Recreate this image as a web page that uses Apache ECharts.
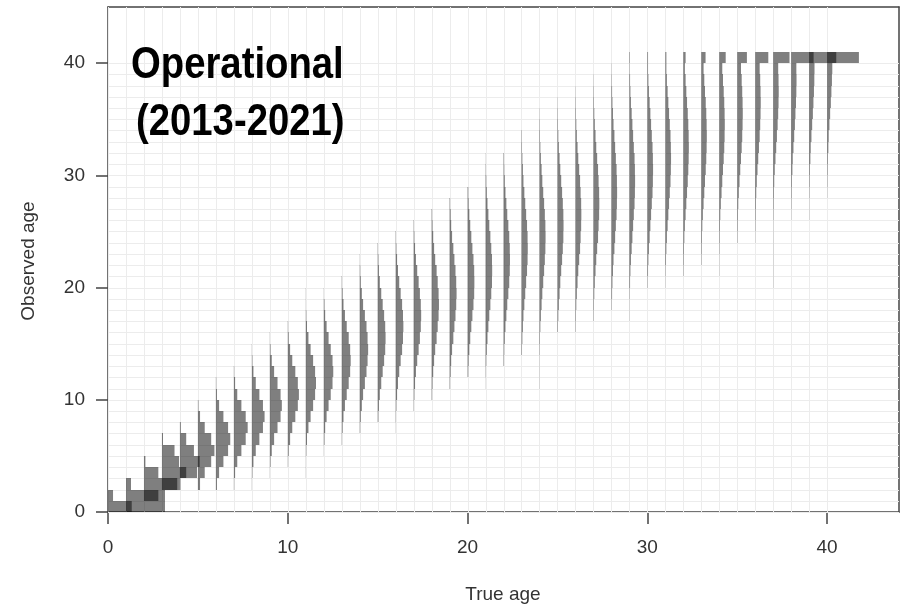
<!DOCTYPE html>
<html>
<head>
<meta charset="utf-8">
<script src="https://cdn.jsdelivr.net/npm/echarts@6/dist/echarts.min.js"></script>
<style>
  html, body { margin: 0; padding: 0; background: #ffffff; }
  #chart { width: 903px; height: 606px; }
</style>
</head>
<body>
<div id="chart"></div>
<script>
// ---- data: for each true age, the first observed age drawn and the bar widths
// (in hundredths of one x unit) for successive observed ages ----
const trueAges = [0,1,2,3,4,5,6,7,8,9,10,11,12,13,14,15,16,17,18,19,20,
                  21,22,23,24,25,26,27,28,29,30,31,32,33,34,35,36,37,38,39,40];
const firstObserved = [0,0,1,2,2,2,2,2,2,3,4,3,5,6,7,8,7,9,10,11,12,
                       11,13,14,11,16,16,17,18,17,20,20,21,22,21,24,24,20,26,26,28];

const w00 = [317, 28];
const w01 = [32, 217, 28];
const w02 = [80, 200, 80, 8];
const w03 = [85, 135, 95, 70, 6];
const w04 = [3, 95, 110, 78, 35, 5];
const w05 = [12, 38, 74, 92, 74, 38, 12, 3];
const w06 = [6, 18, 42, 68, 80, 68, 42, 18, 6, 2];
const w07 = [2, 7, 19, 42, 66, 77, 66, 42, 19, 7, 2];
const w08 = [1, 3, 9, 22, 42, 62, 71, 62, 42, 22, 9, 3, 1];
const w09 = [1, 4, 11, 24, 43, 60, 67, 60, 43, 24, 11, 4, 1];
const w10 = [2, 5, 13, 25, 42, 56, 62, 56, 42, 25, 13, 5, 2];
const w11 = [1, 1, 3, 7, 15, 27, 41, 52, 57, 52, 41, 27, 15, 7, 3, 1, 1];
const w12 = [1, 4, 8, 16, 27, 39, 49, 53, 49, 39, 27, 16, 8, 4, 1];
const w13 = [2, 5, 10, 18, 28, 39, 47, 50, 47, 39, 28, 18, 10, 5, 2];
const w14 = [3, 6, 12, 19, 29, 38, 44, 47, 44, 38, 29, 19, 12, 6, 3, 1];
const w15 = [4, 7, 12, 20, 28, 36, 42, 44, 42, 36, 28, 20, 12, 7, 4, 2];
const w16 = [1, 2, 4, 8, 13, 20, 28, 36, 41, 43, 41, 36, 28, 20, 13, 8, 4, 2];
const w17 = [2, 4, 8, 13, 20, 28, 35, 40, 42, 40, 35, 28, 20, 13, 8, 4, 2];
const w18 = [3, 5, 9, 14, 20, 28, 34, 39, 41, 39, 34, 28, 20, 14, 9, 5, 3];
const w19 = [3, 6, 9, 14, 21, 27, 33, 37, 39, 37, 33, 27, 21, 14, 9, 6, 3];
const w20 = [4, 6, 10, 15, 21, 27, 33, 37, 38, 37, 33, 27, 21, 15, 10, 6, 4];
const w21 = [1, 2, 4, 7, 11, 16, 21, 27, 32, 36, 37, 36, 32, 27, 21, 16, 11, 7, 4, 2, 1];
const w22 = [3, 4, 7, 11, 16, 21, 27, 32, 35, 36, 35, 32, 27, 21, 16, 11, 7, 4, 3];
const w23 = [3, 5, 8, 11, 16, 21, 26, 31, 34, 35, 34, 31, 26, 21, 16, 11, 8, 5, 3, 2];
const w24 = [1, 1, 1, 2, 3, 5, 8, 12, 16, 21, 26, 30, 33, 34, 33, 30, 26, 21, 16, 12, 8, 5, 3, 2, 1];
const w25 = [3, 5, 8, 12, 16, 21, 26, 30, 33, 34, 33, 30, 26, 21, 16, 12, 8, 5, 3, 2, 1];
const w26 = [2, 3, 5, 8, 12, 16, 21, 26, 29, 32, 33, 32, 29, 26, 21, 16, 12, 8, 5, 3, 2, 1];
const w27 = [2, 3, 5, 8, 12, 16, 21, 26, 29, 32, 33, 32, 29, 26, 21, 16, 12, 8, 5, 3, 2, 1];
const w28 = [2, 4, 6, 9, 12, 17, 21, 25, 29, 31, 32, 31, 29, 25, 21, 17, 12, 9, 6, 4, 2, 1];
const w29 = [1, 1, 2, 4, 6, 9, 13, 17, 21, 25, 29, 31, 32, 31, 29, 25, 21, 17, 13, 9, 6, 4, 2, 3];
const w30 = [2, 4, 6, 9, 13, 17, 21, 25, 29, 31, 32, 31, 29, 25, 21, 17, 13, 9, 6, 4, 4];
const w31 = [1, 2, 4, 6, 9, 13, 17, 21, 25, 29, 31, 32, 31, 29, 25, 21, 17, 13, 9, 6, 6];
const w32 = [2, 3, 4, 6, 9, 13, 17, 21, 25, 28, 30, 31, 30, 28, 25, 21, 17, 13, 9, 13];
const w33 = [2, 3, 4, 6, 9, 13, 17, 21, 25, 28, 30, 31, 30, 28, 25, 21, 17, 13, 24];
const w34 = [1, 1, 2, 3, 4, 6, 9, 13, 17, 21, 25, 28, 30, 31, 30, 28, 25, 21, 17, 36];
const w35 = [2, 3, 4, 6, 9, 13, 17, 21, 25, 28, 30, 31, 30, 28, 25, 21, 54];
const w36 = [1, 2, 3, 4, 6, 9, 13, 17, 21, 25, 28, 30, 31, 30, 28, 25, 73];
const w37 = [1, 1, 1, 1, 1, 1, 2, 3, 4, 6, 9, 13, 17, 21, 25, 28, 30, 31, 30, 28, 91];
const w38 = [1, 2, 3, 4, 7, 9, 13, 17, 21, 24, 27, 29, 30, 29, 125];
const w39 = [1, 1, 2, 3, 4, 7, 9, 13, 17, 21, 24, 27, 29, 30, 151];
const w40 = [1, 2, 3, 4, 7, 9, 13, 17, 21, 24, 27, 29, 177];

const widthLists = [w00,w01,w02,w03,w04,w05,w06,w07,w08,w09,w10,w11,w12,w13,w14,w15,w16,w17,w18,w19,w20,
                    w21,w22,w23,w24,w25,w26,w27,w28,w29,w30,w31,w32,w33,w34,w35,w36,w37,w38,w39,w40];

const xTicks = [0, 10, 20, 30, 40];
const yTicks = [0, 10, 20, 30, 40];
const gridAges = [0,1,2,3,4,5,6,7,8,9,10,11,12,13,14,15,16,17,18,19,20,
                  21,22,23,24,25,26,27,28,29,30,31,32,33,34,35,36,37,38,39,40];
const xLabel = 'True age';
const yLabel = 'Observed age';
const titleLine1 = 'Operational';
const titleLine2 = '(2013-2021)';

// ---- build the [trueAge, observedAge, width] table ----
const cells = [];
trueAges.forEach(function (a, i) {
  widthLists[i].forEach(function (w, j) {
    cells.push([a, firstObserved[i] + j, w / 100]);
  });
});

const chart = echarts.init(document.getElementById('chart'), null, { renderer: 'canvas' });

const labelFont = { fontSize: 19, color: '#333', fontFamily: 'Liberation Sans, Arial, sans-serif' };
const frameLine = { show: true, onZero: false, lineStyle: { color: '#444', width: 1.5 } };

chart.setOption({
  animation: false,
  backgroundColor: '#ffffff',
  grid: { left: 108, top: 7, right: 4, bottom: 94 },
  xAxis: [
    {
      type: 'value', min: 0, max: 44, interval: 10, position: 'bottom',
      axisLine: frameLine,
      splitLine: { show: false },
      axisTick: { show: true, length: 12, customValues: xTicks, lineStyle: { color: '#444', width: 1.5 } },
      axisLabel: Object.assign({ margin: 26, customValues: xTicks }, labelFont)
    },
    {
      type: 'value', min: 0, max: 44, position: 'top',
      axisLine: frameLine, axisTick: { show: false }, axisLabel: { show: false },
      splitLine: { show: false }
    }
  ],
  yAxis: [
    {
      type: 'value', min: 0, max: 45, interval: 10, position: 'left',
      axisLine: frameLine,
      splitLine: { show: false },
      axisTick: { show: true, length: 12, customValues: yTicks, lineStyle: { color: '#444', width: 1.5 } },
      axisLabel: Object.assign({ margin: 23, customValues: yTicks }, labelFont)
    },
    {
      type: 'value', min: 0, max: 45, position: 'right',
      axisLine: frameLine, axisTick: { show: false }, axisLabel: { show: false },
      splitLine: { show: false }
    }
  ],
  series: [
    {
      type: 'custom',
      name: 'grid',
      z: 1,
      silent: true,
      xAxisIndex: 0, yAxisIndex: 0,
      data: gridAges.map(function (k) { return [k]; }),
      renderItem: function (params, api) {
        const k = api.value(0);
        const cs = params.coordSys;
        const px = Math.round(api.coord([k, 0])[0]) + 0.5;
        const py = Math.round(api.coord([0, k])[1]) + 0.5;
        const st = { stroke: '#ececec', lineWidth: 1 };
        return {
          type: 'group',
          children: [
            { type: 'line', shape: { x1: px, y1: cs.y, x2: px, y2: cs.y + cs.height }, style: st },
            { type: 'line', shape: { x1: cs.x, y1: py, x2: cs.x + cs.width, y2: py }, style: st }
          ]
        };
      }
    },
    {
      type: 'custom',
      name: 'ageing',
      z: 2,
      xAxisIndex: 0, yAxisIndex: 0,
      data: cells,
      renderItem: function (params, api) {
        const a = api.value(0), o = api.value(1), w = api.value(2);
        const p0 = api.coord([a, o + 1]);
        const p1 = api.coord([a + w, o]);
        const y0 = Math.round(p0[1]), y1 = Math.round(p1[1]);
        return {
          type: 'rect',
          shape: { x: p0[0], y: y0, width: p1[0] - p0[0], height: y1 - y0 },
          style: { fill: 'rgba(0,0,0,0.5)' }
        };
      }
    }
  ],
  graphic: [
    {
      type: 'text', x: 131, y: 66, scaleX: 0.87, z: 100,
      style: { text: titleLine1, font: 'bold 44px "Liberation Sans", Arial, sans-serif',
               fill: '#000', align: 'left', verticalAlign: 'middle' }
    },
    {
      type: 'text', x: 136, y: 123, scaleX: 0.87, z: 100,
      style: { text: titleLine2, font: 'bold 44px "Liberation Sans", Arial, sans-serif',
               fill: '#000', align: 'left', verticalAlign: 'middle' }
    },
    {
      type: 'text', x: 503, y: 595, z: 100,
      style: { text: xLabel, font: '19px "Liberation Sans", Arial, sans-serif',
               fill: '#333', align: 'center', verticalAlign: 'middle' }
    },
    {
      type: 'text', x: 29, y: 261, rotation: Math.PI / 2, z: 100,
      style: { text: yLabel, font: '19px "Liberation Sans", Arial, sans-serif',
               fill: '#333', align: 'center', verticalAlign: 'middle' }
    }
  ]
});
</script>
</body>
</html>
